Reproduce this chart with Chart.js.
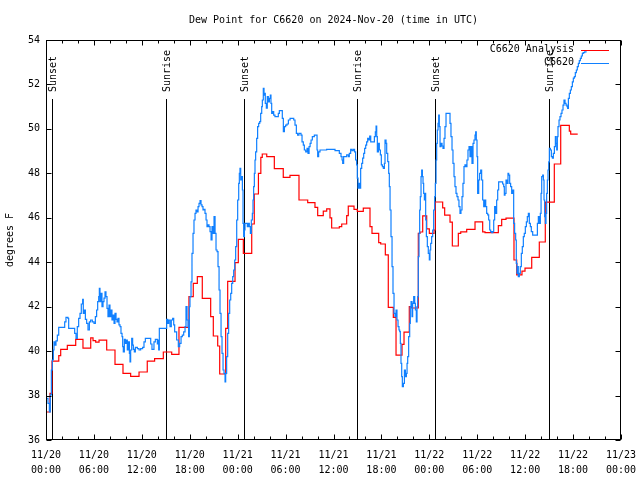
<!DOCTYPE html>
<html><head><meta charset="utf-8">
<script src="https://cdn.jsdelivr.net/npm/chart.js@4.4.1/dist/chart.umd.min.js"></script>
<style>html,body{margin:0;padding:0;background:#fff}</style>
</head><body>
<canvas id="c" width="640" height="480"></canvas>
<script>
const chartTitle = "Dew Point for C6620 on 2024-Nov-20 (time in UTC)";
const yAxisTitle = "degrees F";
const xTickLabels = [["11/20","00:00"],["11/20","06:00"],["11/20","12:00"],["11/20","18:00"],["11/21","00:00"],["11/21","06:00"],["11/21","12:00"],["11/21","18:00"],["11/22","00:00"],["11/22","06:00"],["11/22","12:00"],["11/22","18:00"],["11/23","00:00"]];
const seriesNames = ["C6620 Analysis", "C6620"];

// hours since 2024-11-20 00:00 UTC
const eventHours = [0.8, 15.07, 24.83, 38.98, 48.75, 63.03];
const eventLabels = ["Sunset","Sunrise","Sunset","Sunrise","Sunset","Sunrise"];

const analysisHours = [0,0.5,0.75,1.6,1.84,2.67,3.72,4.63,5.6,5.89,
6.22,6.64,7.6,8.64,9.64,10.6,11.65,12.68,13.6,14.69,
15.74,16.65,17.9,18.44,18.95,19.57,20.62,20.95,21.5,21.75,
22.5,22.75,23.67,24.08,24.71,25.76,26.08,26.6,26.9,27.08,
27.64,28.59,29.71,30.55,31.68,32.77,33.68,34.02,34.72,35.15,
35.56,35.77,36.73,37.03,37.65,37.85,38.57,38.98,39.73,40.57,
40.82,41.66,41.91,42.49,42.86,43.49,43.83,44.58,44.83,45.49,
45.79,46.62,46.83,47.17,47.67,48.0,48.59,48.75,49.67,49.92,
50.59,50.88,51.63,51.93,52.68,53.72,54.68,54.97,56.64,57.06,
57.6,58.6,58.94,59.6,59.98,60.82,61.77,62.52,63.65,64.45,
65.53,65.7,66.58];
const analysisDewPoint = [37.26,38.1,39.55,39.8,40.08,40.26,40.53,40.13,40.6,40.47,
40.4,40.49,40.05,39.4,39.0,38.86,39.06,39.55,39.66,39.96,
39.85,41.07,42.45,43.05,43.35,42.37,41.55,40.68,40.23,38.97,
41.02,43.14,43.98,45.03,44.4,45.72,47.07,48.0,48.72,48.87,
48.75,48.21,47.82,47.91,46.8,46.68,46.47,46.1,46.3,46.4,
46.0,45.54,45.6,45.72,46.1,46.52,46.38,46.29,46.43,45.6,
45.3,44.88,44.82,44.33,41.97,41.52,39.82,40.3,40.85,42.0,
41.94,45.3,45.36,46.09,45.5,45.3,45.45,46.71,46.45,46.12,
45.8,44.73,45.3,45.37,45.48,45.82,45.37,45.33,45.65,45.93,
45.98,44.1,43.43,43.6,43.73,44.22,44.91,46.7,48.42,50.16,
49.9,49.76,49.76];

const stationHours = [0,0.25,0.42,0.54,0.67,0.79,0.92,1.0,1.13,1.25,
1.42,1.59,2.34,2.5,2.75,2.84,3.59,3.76,3.92,4.09,
4.26,4.42,4.59,4.67,4.8,4.93,5.09,5.26,5.43,5.59,
5.8,6.01,6.18,6.34,6.47,6.6,6.68,6.76,6.89,7.01,
7.14,7.26,7.39,7.51,7.64,7.76,7.89,8.01,8.14,8.26,
8.39,8.52,8.64,8.77,8.89,9.02,9.14,9.27,9.39,9.52,
9.6,9.68,9.81,9.93,10.06,10.18,10.31,10.44,10.52,10.6,
10.73,10.85,10.94,11.06,11.19,11.44,11.65,11.85,12.1,12.27,
12.44,13.11,13.27,13.52,13.69,13.94,14.02,14.11,14.19,15.11,
15.24,15.36,15.53,15.69,15.86,15.99,16.11,16.36,16.57,16.74,
16.91,17.07,17.24,17.41,17.53,17.66,17.78,17.86,17.95,18.03,
18.16,18.28,18.41,18.53,18.66,18.78,18.91,19.04,19.16,19.29,
19.41,19.54,19.66,19.78,19.91,20.04,20.16,20.29,20.41,20.54,
20.67,20.79,20.92,21.04,21.17,21.29,21.42,21.54,21.67,21.79,
21.92,22.04,22.17,22.29,22.42,22.5,22.62,22.75,22.87,23.0,
23.13,23.25,23.38,23.5,23.63,23.75,23.88,24.0,24.13,24.21,
24.29,24.38,24.5,24.59,24.67,24.75,24.84,24.92,25.21,25.34,
25.46,25.59,25.71,25.84,25.92,26.0,26.09,26.17,26.25,26.38,
26.5,26.63,26.76,26.88,27.01,27.09,27.21,27.3,27.38,27.46,
27.59,27.71,27.84,27.97,28.09,28.17,28.26,28.38,28.51,28.67,
29.09,29.22,29.59,29.72,29.85,30.01,30.18,30.35,30.56,31.02,
31.18,31.35,31.51,31.68,31.93,32.06,32.22,32.35,32.52,32.69,
32.81,32.94,33.07,33.19,33.35,33.6,33.94,34.02,34.14,34.31,
35.14,36.19,36.73,36.94,37.07,37.15,37.27,37.65,37.86,37.98,
38.15,38.31,38.48,38.64,38.77,38.9,38.98,39.07,39.19,39.28,
39.4,39.53,39.65,39.78,39.9,40.03,40.15,40.28,40.4,40.53,
40.66,41.12,41.24,41.33,41.41,41.49,41.62,41.74,41.87,41.99,
42.12,42.24,42.37,42.45,42.58,42.66,42.79,42.91,42.99,43.08,
43.2,43.33,43.45,43.58,43.7,43.83,43.95,44.08,44.2,44.29,
44.37,44.45,44.54,44.62,44.75,44.88,45.0,45.13,45.21,45.29,
45.41,45.54,45.62,45.71,45.83,45.91,46.04,46.17,46.25,46.37,
46.46,46.54,46.62,46.71,46.79,46.87,46.96,47.04,47.13,47.21,
47.29,47.38,47.46,47.54,47.63,47.75,47.87,48.0,48.08,48.17,
48.29,48.42,48.54,48.67,48.75,48.84,48.92,49.0,49.09,49.17,
49.25,49.34,49.46,49.59,49.71,49.84,49.96,50.09,50.59,50.71,
50.84,50.96,51.09,51.21,51.34,51.46,51.59,51.71,51.84,51.96,
52.09,52.21,52.34,52.46,52.59,52.71,52.84,52.97,53.09,53.22,
53.34,53.47,53.59,53.72,53.8,53.88,53.97,54.05,54.18,54.3,
54.43,54.55,54.68,54.81,54.93,55.06,55.18,55.31,55.43,55.56,
55.68,55.81,55.93,56.06,56.18,56.31,56.43,56.56,56.68,57.18,
57.31,57.39,57.48,57.6,57.73,57.85,57.94,58.06,58.18,58.31,
58.43,58.56,58.68,58.81,58.89,58.98,59.06,59.14,59.27,59.39,
59.52,59.64,59.77,59.89,60.02,60.15,60.27,60.4,60.52,60.65,
60.77,60.94,61.53,61.65,61.78,61.9,61.99,62.07,62.19,62.28,
62.36,62.44,62.53,62.61,62.69,62.78,62.86,62.95,63.03,63.16,
63.28,63.41,63.53,63.66,63.78,63.86,63.95,64.03,64.11,64.24,
64.36,64.49,64.61,64.74,64.86,64.99,65.12,65.24,65.32,65.41,
65.53,65.66,65.78,65.91,66.03,66.16,66.28,66.41,66.53,66.66,
66.78,66.91,67.03,67.16,67.28,67.45,67.7];
const stationDewPoint = [37.87,37.65,37.27,38.03,39.15,39.6,40.05,40.42,40.27,40.46,
40.72,41.07,41.32,41.52,41.47,41.02,40.8,40.57,41.1,41.47,
41.7,42.12,42.33,41.7,41.85,41.43,41.25,40.95,41.32,41.4,
41.32,41.25,41.55,41.85,42.23,42.45,42.82,42.23,42.6,42.0,
42.23,42.38,42.67,42.45,41.92,41.55,42.07,41.55,41.85,41.4,
41.62,41.25,41.7,41.43,41.32,41.47,41.18,41.1,40.8,40.65,
40.2,39.97,40.53,40.35,40.5,40.05,40.42,39.9,39.52,40.05,
40.57,40.27,40.08,39.97,40.17,40.11,40.05,40.11,40.17,40.42,
40.57,40.32,40.08,40.42,40.53,40.32,40.5,40.05,41.02,41.43,
41.25,41.4,41.1,41.4,41.47,41.18,40.87,40.5,40.2,40.35,
40.65,40.72,40.87,41.1,42.0,41.4,41.1,40.65,42.0,42.45,
43.12,44.4,45.3,45.9,46.2,46.35,46.27,46.5,46.65,46.77,
46.58,46.5,46.35,46.38,46.2,45.9,45.6,45.68,45.6,45.38,
45.0,45.6,45.3,46.05,45.3,44.55,44.48,43.8,42.75,41.7,
40.65,39.9,39.15,39.0,38.62,39.0,39.75,40.8,41.7,42.3,
42.6,43.05,43.35,43.65,44.1,44.7,45.9,46.8,47.55,48.0,
48.22,47.7,47.85,47.25,45.75,45.15,45.45,45.75,45.6,45.75,
45.6,45.3,45.9,46.2,46.8,47.4,48.0,48.6,48.97,49.57,
50.1,50.25,50.33,50.7,51.0,51.3,51.82,51.52,51.6,51.15,
50.93,51.45,51.22,51.37,51.52,51.15,50.7,50.78,50.62,50.55,
50.7,50.82,50.47,49.88,50.1,50.17,50.22,50.4,50.47,50.4,
50.17,49.8,49.72,49.8,49.72,49.42,49.27,49.05,48.97,49.12,
48.9,49.2,49.35,49.5,49.65,49.72,49.05,48.75,48.97,49.05,
49.08,49.02,48.9,48.75,48.6,48.45,48.75,48.83,48.75,48.9,
49.08,49.02,49.08,48.97,48.6,48.38,47.78,47.33,47.55,47.33,
48.22,48.45,48.68,48.9,49.12,49.27,49.42,49.57,49.5,49.68,
49.42,49.65,49.87,50.13,49.65,48.97,49.35,49.05,48.83,48.38,
48.3,48.22,48.45,49.5,49.35,48.9,48.53,48.0,47.4,46.35,
45.15,43.8,42.6,41.7,41.55,41.85,41.4,41.1,40.95,40.88,
40.35,39.45,38.85,38.4,38.55,39.15,38.85,39.0,39.45,39.75,
40.65,41.25,42.0,42.23,41.55,42.15,42.45,42.15,41.85,41.32,
42.0,42.45,44.25,45.3,46.35,46.95,47.85,48.15,47.85,47.55,
47.1,46.8,47.1,45.9,45.15,44.7,44.4,44.1,44.55,44.85,
45.15,45.45,46.35,46.95,47.55,48.6,49.35,49.95,50.25,50.62,
50.1,49.2,49.35,49.23,49.12,49.57,50.1,50.7,50.25,49.65,
49.05,48.45,47.85,47.4,47.1,46.95,46.8,46.5,46.2,46.35,
46.95,47.55,48.3,48.38,48.3,48.6,49.05,49.2,48.75,49.2,
48.45,49.35,49.5,49.72,49.87,49.5,48.75,47.1,47.7,48.0,
48.15,47.7,46.8,46.5,46.8,46.5,46.2,46.13,45.9,45.45,
45.38,45.33,45.38,45.9,46.5,46.2,46.8,47.25,47.62,47.52,
47.4,47.02,47.1,47.7,47.55,48.0,47.92,47.55,47.4,47.1,
47.25,45.75,45.3,45.0,43.95,43.5,43.8,43.35,43.5,43.8,
44.4,44.7,45.15,45.3,45.6,45.82,46.05,46.2,45.75,45.6,
45.38,45.22,45.75,46.05,45.75,46.2,47.1,47.85,47.92,47.7,
46.8,46.05,45.75,46.2,47.1,47.7,48.15,48.52,49.12,49.05,
48.75,48.68,48.9,49.2,49.65,49.35,49.05,49.65,50.1,50.4,
50.55,50.7,50.85,51.07,51.3,51.15,51.07,51.0,50.92,51.37,
51.6,51.75,51.9,52.12,52.28,52.35,52.53,52.65,52.8,52.95,
53.07,53.17,53.28,53.4,53.43,53.47,53.47];

const FONT = "'DejaVu Sans Mono', 'Liberation Mono', monospace";
const toXY = (hs, vs) => hs.map((h, i) => ({x: h, y: vs[i]}));

const decor = {
  id: 'decor',
  beforeDatasetsDraw(chart) {
    const {ctx, chartArea: a, scales: {x}} = chart;
    ctx.save();
    ctx.strokeStyle = '#000'; ctx.lineWidth = 1;
    ctx.fillStyle = '#000';
    ctx.font = '10px ' + FONT;
    eventHours.forEach((h, i) => {
      const px = Math.round(x.getPixelForValue(h)) + 0.5;
      ctx.beginPath(); ctx.moveTo(px, a.top + 59); ctx.lineTo(px, a.bottom); ctx.stroke();
      ctx.save(); ctx.translate(px + 1, a.top + 52); ctx.rotate(-Math.PI/2);
      ctx.textAlign = 'left'; ctx.textBaseline = 'middle';
      ctx.fillText(eventLabels[i], 0, 0);
      ctx.restore();
    });
    ctx.restore();
  },
  afterDraw(chart) {
    const {ctx, chartArea: a, scales: {x, y}} = chart;
    ctx.save();
    ctx.strokeStyle = '#000'; ctx.lineWidth = 1; ctx.fillStyle = '#000';
    const L = Math.round(a.left) + 0.5, R = Math.round(a.right) - 0.5;
    const T = Math.round(a.top) + 0.5, B = Math.round(a.bottom) - 0.5;
    ctx.beginPath();
    for (let v = 36; v <= 54; v += 2) {
      const py = Math.round(y.getPixelForValue(v)) + 0.5;
      ctx.moveTo(L, py); ctx.lineTo(L + 5, py);
      ctx.moveTo(R, py); ctx.lineTo(R - 5, py);
    }
    for (let h = 0; h <= 72; h += 2) {
      const px = Math.round(x.getPixelForValue(h)) + 0.5;
      const len = (h % 6 === 0) ? 5 : 3;
      ctx.moveTo(px, B); ctx.lineTo(px, B - len);
      ctx.moveTo(px, T); ctx.lineTo(px, T + len);
    }
    ctx.stroke();
    ctx.strokeRect(L, T, R - L, B - T);
    ctx.font = '10px ' + FONT;
    ctx.textAlign = 'center'; ctx.textBaseline = 'middle';
    ctx.fillText(chartTitle, (a.left + a.right) / 2, 20);
    ctx.save(); ctx.translate(10, (a.top + a.bottom) / 2); ctx.rotate(-Math.PI/2);
    ctx.fillText(yAxisTitle, 0, 0); ctx.restore();
    // legend
    const colors = ['#ff0000', '#1080ff'];
    ctx.textAlign = 'right';
    seriesNames.forEach((n, i) => {
      const ly = a.top + 9.5 + i * 13;
      ctx.fillStyle = '#000';
      ctx.fillText(n, a.right - 47, ly);
      ctx.strokeStyle = colors[i];
      ctx.beginPath(); ctx.moveTo(a.right - 40, Math.round(ly) + 0.5); ctx.lineTo(a.right - 12, Math.round(ly) + 0.5); ctx.stroke();
    });
    ctx.restore();
  }
};

new Chart(document.getElementById('c'), {
  type: 'line',
  data: {
    datasets: [
      {label: seriesNames[0], data: toXY(analysisHours, analysisDewPoint), borderColor: '#ff0000', borderWidth: 1.2, pointRadius: 0, stepped: 'before', order: 1, fill: false},
      {label: seriesNames[1], data: toXY(stationHours, stationDewPoint), borderColor: '#1080ff', borderWidth: 1.2, pointRadius: 0, stepped: 'before', order: 0, fill: false}
    ]
  },
  options: {
    responsive: false, animation: false, devicePixelRatio: 1,
    layout: {padding: {left: 0, right: 19, top: 40, bottom: 0}},
    plugins: {legend: {display: false}, tooltip: {enabled: false}, title: {display: false}},
    scales: {
      x: {type: 'linear', min: 0, max: 72,
          grid: {display: false, drawTicks: false}, border: {display: false},
          ticks: {stepSize: 6, autoSkip: false, maxRotation: 0, padding: 8, color: '#000',
                  font: {family: FONT, size: 10, lineHeight: 1.5},
                  callback: (v) => xTickLabels[Math.round(v / 6)]},
          afterFit: (s) => { s.height = 40; s.paddingRight = 0; s.paddingLeft = 0; }},
      y: {min: 36, max: 54,
          grid: {display: false, drawTicks: false}, border: {display: false},
          ticks: {stepSize: 2, padding: 6, color: '#000', font: {family: FONT, size: 10}},
          afterFit: (s) => { s.width = 46; s.paddingTop = 0; s.paddingBottom = 0; }}
    }
  },
  plugins: [decor]
});
</script>
</body></html>
